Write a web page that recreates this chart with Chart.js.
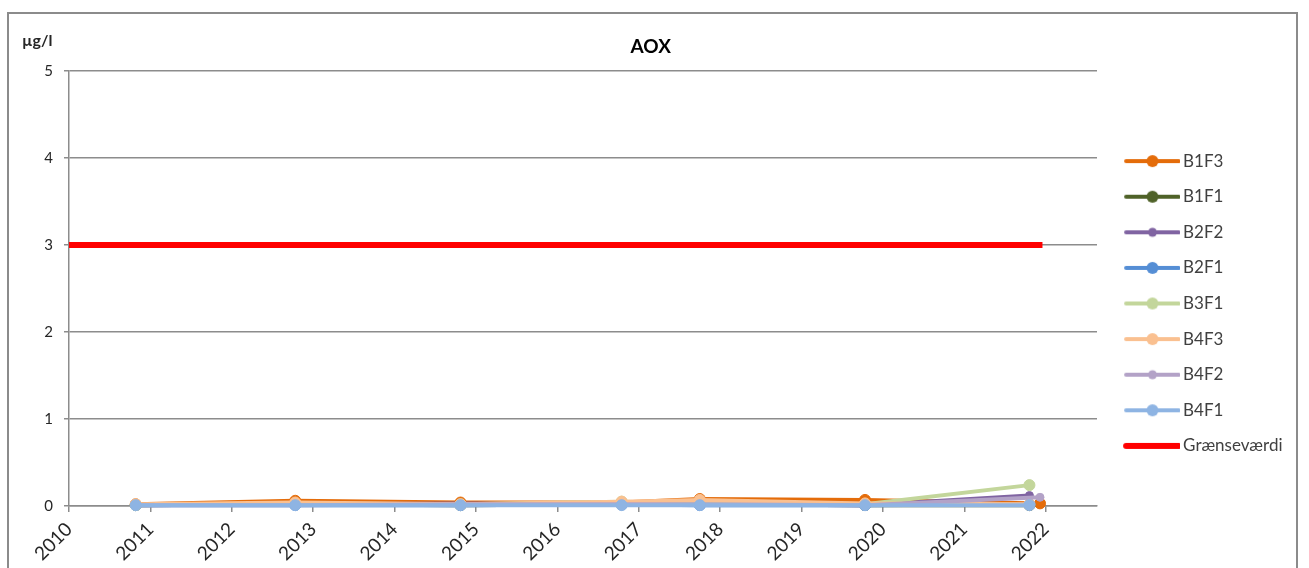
<!DOCTYPE html>
<html>
<head>
<meta charset="utf-8">
<title>AOX</title>
<script src="https://cdn.jsdelivr.net/npm/chart.js@4/dist/chart.umd.min.js"></script>
<style>
  html, body { margin: 0; padding: 0; background: #fff; width: 1309px; height: 568px; overflow: hidden; }
  #frame { position: absolute; left: 7px; top: 12px; width: 1287px; height: 620px; border: 2px solid #8b8b8b; }
  #frame canvas { position: absolute; left: 0; top: 0; }
</style>
</head>
<body>
<div id="frame"><canvas id="chart" width="1287" height="579"></canvas></div>
<script>
// Sampling rounds as decimal years (the last two are separate autumn-2021 rounds)
const sampleYears = [2010.82, 2012.78, 2014.81, 2016.79, 2017.75, 2019.78, 2021.80, 2021.93];

// AOX per well, µg/l (null = not sampled in that round)
const b1f3 = [0.02, 0.06, 0.04, 0.04, 0.08, 0.07, null, 0.03];
const b1f1 = [0.01, 0.02, 0.01, 0.02, 0.02, 0.01, 0.01, null];
const b2f2 = [0.01, 0.02, 0.03, 0.02, 0.02, 0.01, 0.12, null];
const b2f1 = [0.01, 0.01, 0.01, 0.02, 0.01, 0.01, 0.02, null];
const b3f1 = [0.01, 0.03, 0.02, 0.05, 0.03, 0.02, 0.24, null];
const b4f3 = [0.02, 0.04, 0.02, 0.05, 0.07, 0.03, 0.02, null];
const b4f2 = [0.01, 0.01, 0.02, 0.02, 0.02, 0.01, null, 0.10];
const b4f1 = [0.01, 0.01, 0.01, 0.01, 0.01, 0.01, 0.01, null];

// Limit value line
const limitYears = [2010, 2021.96];
const limitValues = [3, 3];

// Axis ranges and ticks
const yearMin = 2010;
const yearMax = 2022.63;
const yMin = 0, yMax = 5, yStep = 1;

const seriesNames = ['B1F3', 'B1F1', 'B2F2', 'B2F1', 'B3F1', 'B4F3', 'B4F2', 'B4F1'];
const seriesValues = [b1f3, b1f1, b2f2, b2f1, b3f1, b4f3, b4f2, b4f1];
const seriesColors = ['#E46C0A', '#4F6228', '#8064A2', '#558ED5', '#C3D69B', '#FAC090', '#B3A2C7', '#8EB4E3'];
const seriesDot = [6, 6, 4.5, 6, 6, 6, 4.5, 6];

const FONT = 'Lato, "Open Sans", sans-serif';
const TEXT = '#404040';
const GRID = '#8c8c8c';

function toPoints(xs, ys) {
  return xs.map((x, i) => ({ x: x, y: ys[i] })).filter(p => p.y !== null);
}

const datasets = seriesNames.map((name, i) => ({
  label: name,
  data: toPoints(sampleYears, seriesValues[i]),
  borderColor: seriesColors[i],
  backgroundColor: seriesColors[i],
  pointBackgroundColor: seriesColors[i],
  pointBorderColor: seriesColors[i],
  borderWidth: 4,
  pointRadius: seriesDot[i] - 0.5,
  pointBorderWidth: 1,
  tension: 0,
  spanGaps: true,
  clip: false,
  order: seriesNames.length - i   // later wells are painted on top
}));
datasets.push({
  label: 'Grænseværdi',
  data: toPoints(limitYears, limitValues),
  borderColor: '#FF0000',
  backgroundColor: '#FF0000',
  borderWidth: 6,
  borderCapStyle: 'butt',
  pointRadius: 0,
  tension: 0,
  clip: false,
  order: 0
});

// Legend geometry
const LEGEND_FONT = 17;
const LEGEND_PAD = 18.6;
const LEGEND_BOX = 59;
const PLOT_RIGHT = 1088;
const CANVAS_W = 1287;

// Legend glyph: a short line with a marker dot in the middle
function legendGlyph(color, lineWidth, dot) {
  const c = document.createElement('canvas');
  c.width = 70; c.height = 16;
  const g = c.getContext('2d');
  g.strokeStyle = color;
  g.lineWidth = lineWidth;
  g.lineCap = 'round';
  g.beginPath();
  g.moveTo(16, 8); g.lineTo(68.5, 8);
  g.stroke();
  if (dot > 0) {
    g.fillStyle = color;
    g.beginPath();
    g.arc(42.4, 8, dot, 0, Math.PI * 2);
    g.fill();
  }
  return c;
}
const glyphs = datasets.map((ds, i) =>
  i < seriesNames.length ? legendGlyph(ds.borderColor, 4, seriesDot[i]) : legendGlyph(ds.borderColor, 6, 0));

// Right padding so the legend sits next to the plot edge
const mctx = document.createElement('canvas').getContext('2d');
mctx.font = LEGEND_FONT + 'px ' + FONT;
const widestLabel = Math.max(...datasets.map(d => mctx.measureText(d.label).width));
const legendWidth = LEGEND_PAD + LEGEND_BOX + LEGEND_FONT / 2 + widestLabel + 10;
const padRight = Math.max(0, CANVAS_W - PLOT_RIGHT - legendWidth);

// Unit label above the value axis
const unitLabel = {
  id: 'unitLabel',
  afterDraw(chart) {
    const ctx = chart.ctx;
    ctx.save();
    ctx.font = 'bold 16px ' + FONT;
    ctx.fillStyle = '#262626';
    ctx.textAlign = 'left';
    ctx.textBaseline = 'middle';
    ctx.fillText('µg/l', chart.chartArea.left - 47, chart.chartArea.top - 30);
    ctx.restore();
  }
};

new Chart(document.getElementById('chart'), {
  type: 'line',
  data: { datasets: datasets },
  plugins: [unitLabel],
  options: {
    responsive: false,
    animation: false,
    devicePixelRatio: 1,
    layout: { padding: { left: 0, right: padRight, top: 0, bottom: 0 } },
    plugins: {
      tooltip: { enabled: false },
      title: {
        display: true,
        text: 'AOX',
        color: '#000',
        font: { family: FONT, size: 19, weight: 'bold' },
        padding: { top: 21.6, bottom: 12.6 }
      },
      legend: {
        display: true,
        position: 'right',
        align: 'center',
        labels: {
          usePointStyle: true,
          pointStyleWidth: LEGEND_BOX,
          padding: LEGEND_PAD,
          color: TEXT,
          font: { family: FONT, size: LEGEND_FONT },
          generateLabels: (chart) => chart.data.datasets.map((ds, i) => ({
            text: ds.label,
            fillStyle: ds.borderColor,
            strokeStyle: ds.borderColor,
            lineWidth: 0,
            pointStyle: glyphs[i],
            hidden: !chart.isDatasetVisible(i),
            datasetIndex: i,
            fontColor: TEXT
          }))
        }
      }
    },
    scales: {
      x: {
        type: 'linear',
        min: yearMin,
        max: yearMax,
        afterFit: (scale) => { scale.height = 87; },
        ticks: {
          stepSize: 1,
          includeBounds: false,
          autoSkip: false,
          maxRotation: 45,
          minRotation: 45,
          padding: 6,
          color: '#262626',
          font: { family: FONT, size: 19 },
          callback: (v) => String(v)
        },
        grid: { display: true, drawOnChartArea: false, drawTicks: true, tickLength: 6, color: GRID, lineWidth: 1.5 },
        border: { display: true, color: GRID, width: 1.5 }
      },
      y: {
        min: yMin,
        max: yMax,
        afterFit: (scale) => { scale.width = 60; },
        ticks: {
          stepSize: yStep,
          padding: 11,
          color: '#262626',
          font: { family: FONT, size: 15 }
        },
        grid: { color: GRID, lineWidth: 1.5, drawTicks: true, tickLength: 5 },
        border: { display: true, color: GRID, width: 1.5 }
      }
    }
  }
});
</script>
</body>
</html>
